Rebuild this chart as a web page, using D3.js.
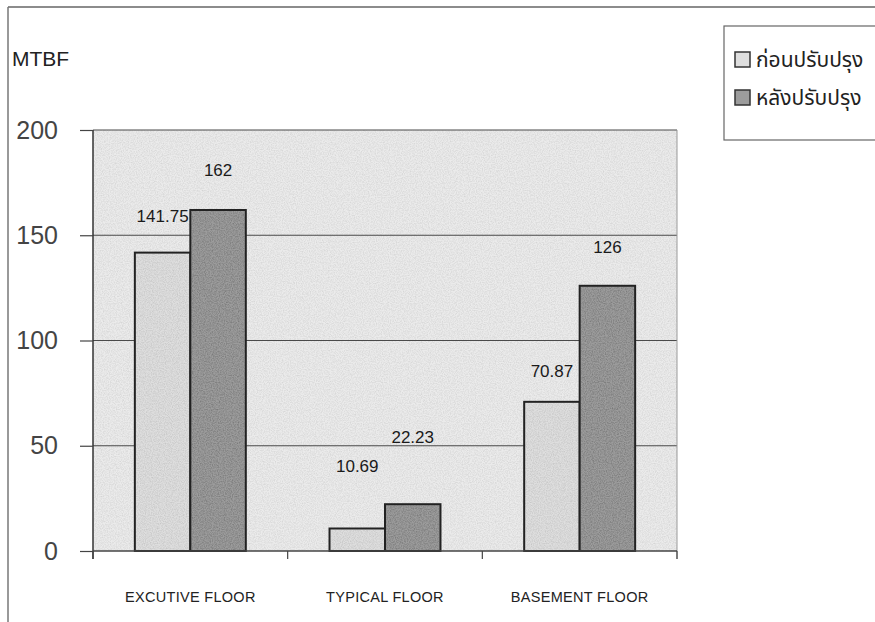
<!DOCTYPE html>
<html>
<head>
<meta charset="utf-8">
<script src="https://cdn.jsdelivr.net/npm/d3@7"></script>
<style>
  html, body { margin: 0; padding: 0; background: #fff; }
  svg { display: block; }
</style>
</head>
<body>
<svg id="chart" width="875" height="622"></svg>
<script>
// ---- data ----
const categories = ["EXCUTIVE FLOOR", "TYPICAL FLOOR", "BASEMENT FLOOR"];
const seriesNames = ["ก่อนปรับปรุง", "หลังปรับปรุง"];
const beforeValues = [141.75, 10.69, 70.87];
const afterValues = [162, 22.23, 126];
const valueLabels = [["141.75", "162"], ["10.69", "22.23"], ["70.87", "126"]];
const yTicks = [0, 50, 100, 150, 200];
const yTitle = "MTBF";

// ---- styling (not data) ----
const labelGap = [[31, 34], [56, 61], [25, 33]];
const seriesFill = ["#dedede", "#9c9c9c"];

const svg = d3.select("#chart");
const W = 875, H = 622;
const plot = { left: 93, right: 677, top: 130, bottom: 551 };

// noise filter for scanned texture
const defs = svg.append("defs");
const f = defs.append("filter").attr("id", "noise").attr("x", 0).attr("y", 0).attr("width", "100%").attr("height", "100%");
f.append("feTurbulence").attr("type", "fractalNoise").attr("baseFrequency", 0.85).attr("numOctaves", 2).attr("seed", 3).attr("result", "t");
f.append("feColorMatrix").attr("in", "t").attr("type", "matrix")
  .attr("values", "0 0 0 0 0  0 0 0 0 0  0 0 0 0 0  0 0 0 -1.6 1.05")
  .attr("result", "n");
f.append("feComposite").attr("in", "n").attr("in2", "SourceGraphic").attr("operator", "in");

// outer frame (scanned page)
svg.append("line").attr("x1", 8).attr("x2", W).attr("y1", 7).attr("y2", 7).attr("stroke", "#666").attr("stroke-width", 1.5);
svg.append("line").attr("x1", 8).attr("x2", 8).attr("y1", 7).attr("y2", H).attr("stroke", "#777").attr("stroke-width", 1.5);

const y = d3.scaleLinear().domain([0, 200]).range([plot.bottom, plot.top]);
const x0 = d3.scaleBand().domain(categories).range([plot.left, plot.right]).paddingInner(0.43).paddingOuter(0.215);
const x1 = d3.scaleBand().domain(seriesNames).range([0, x0.bandwidth()]);
const color = d3.scaleOrdinal().domain(seriesNames).range(seriesFill);

// plot background
svg.append("rect").attr("x", plot.left).attr("y", plot.top)
  .attr("width", plot.right - plot.left).attr("height", plot.bottom - plot.top)
  .attr("fill", "#ebebeb");
svg.append("rect").attr("x", plot.left).attr("y", plot.top)
  .attr("width", plot.right - plot.left).attr("height", plot.bottom - plot.top)
  .attr("fill", "#000").attr("opacity", 0.10).attr("filter", "url(#noise)");

// gridlines
svg.append("g").selectAll("line").data(yTicks.filter(d => d > 0)).join("line")
  .attr("x1", plot.left).attr("x2", plot.right)
  .attr("y1", d => y(d)).attr("y2", d => y(d))
  .attr("stroke", "#4a4a4a").attr("stroke-width", 1.2);

// right border of plot
svg.append("line").attr("x1", plot.right).attr("x2", plot.right)
  .attr("y1", plot.top).attr("y2", plot.bottom + 8)
  .attr("stroke", "#999").attr("stroke-width", 1);

// bars
const rows = categories.map((c, i) => ({ cat: c, i, vals: [beforeValues[i], afterValues[i]] }));
const groups = svg.append("g").selectAll("g").data(rows).join("g")
  .attr("transform", d => `translate(${x0(d.cat)},0)`);
groups.selectAll("rect.bar").data(d => d.vals.map((v, k) => ({ v, k, s: seriesNames[k] }))).join("rect")
  .attr("class", "bar")
  .attr("x", d => x1(d.s)).attr("y", d => y(d.v))
  .attr("width", x1.bandwidth()).attr("height", d => y(0) - y(d.v))
  .attr("fill", d => color(d.s)).attr("stroke", "#222").attr("stroke-width", 2);
groups.selectAll("rect.tex").data(d => d.vals.map((v, k) => ({ v, k, s: seriesNames[k] }))).join("rect")
  .attr("class", "tex")
  .attr("x", d => x1(d.s) + 1).attr("y", d => y(d.v) + 1)
  .attr("width", x1.bandwidth() - 2).attr("height", d => y(0) - y(d.v) - 2)
  .attr("fill", "#000").attr("opacity", d => d.k ? 0.25 : 0.12).attr("filter", "url(#noise)");

// value labels
groups.selectAll("text.val").data(d => d.vals.map((v, k) => ({ v, k, s: seriesNames[k], i: d.i }))).join("text")
  .attr("class", "val")
  .attr("x", d => x1(d.s) + x1.bandwidth() / 2)
  .attr("y", d => y(d.v) - labelGap[d.i][d.k])
  .attr("text-anchor", "middle")
  .attr("font-family", "Liberation Sans, Arial, sans-serif")
  .attr("font-size", 17).attr("fill", "#1a1a1a")
  .text(d => valueLabels[d.i][d.k]);

// y axis
const yAxis = d3.axisLeft(y).tickValues(yTicks).tickSize(13).tickPadding(22).tickFormat(d3.format("d"));
const gy = svg.append("g").attr("transform", `translate(${plot.left},0)`).call(yAxis);
gy.select(".domain").attr("stroke", "#333").attr("stroke-width", 1.5).attr("d", `M0,${plot.top}V${plot.bottom + 8}`);
gy.selectAll(".tick line").attr("stroke", "#444").attr("stroke-width", 1.2);
gy.selectAll(".tick text").attr("font-family", "Liberation Sans, Arial, sans-serif")
  .attr("font-size", 25).attr("fill", "#444");

// x axis
const xAxis = d3.axisBottom(x0).tickSize(0).tickPadding(41);
const gx = svg.append("g").attr("transform", `translate(0,${plot.bottom})`).call(xAxis);
gx.select(".domain").attr("stroke", "#444").attr("stroke-width", 1.5).attr("d", `M${plot.left},0H${plot.right}`);
gx.selectAll(".tick text").attr("font-family", "Liberation Sans, Arial, sans-serif")
  .attr("font-size", 14.5).attr("letter-spacing", 0.3).attr("fill", "#222");
// category boundary ticks
const step = x0.step();
const bounds = d3.range(categories.length + 1).map(i => plot.left + (i === 0 ? 0 : x0(categories[i - 1]) + x0.bandwidth() + step * x0.paddingInner() / 2 - plot.left));
gx.selectAll("line.bt").data(bounds).join("line").attr("class", "bt")
  .attr("x1", d => Math.min(d, plot.right)).attr("x2", d => Math.min(d, plot.right))
  .attr("y1", 0).attr("y2", 8).attr("stroke", "#444").attr("stroke-width", 1.2);

// y title
svg.append("text").attr("x", 12).attr("y", 66)
  .attr("font-family", "Liberation Sans, Arial, sans-serif")
  .attr("font-size", 21).attr("fill", "#222").text(yTitle);

// legend
const lg = svg.append("g");
lg.append("rect").attr("x", 724).attr("y", 26).attr("width", 170).attr("height", 114)
  .attr("fill", "#fff").attr("stroke", "#666").attr("stroke-width", 1.2);
const li = lg.selectAll("g").data(seriesNames).join("g")
  .attr("transform", (d, i) => `translate(735,${52 + i * 38})`);
li.append("rect").attr("width", 15).attr("height", 15)
  .attr("fill", d => color(d)).attr("stroke", "#333").attr("stroke-width", 1.5);
li.append("text").attr("x", 21).attr("y", 15)
  .attr("font-family", "Noto Sans Thai, Tahoma, DejaVu Sans, sans-serif")
  .attr("font-size", 21).attr("fill", "#222").text(d => d);
</script>
</body>
</html>
